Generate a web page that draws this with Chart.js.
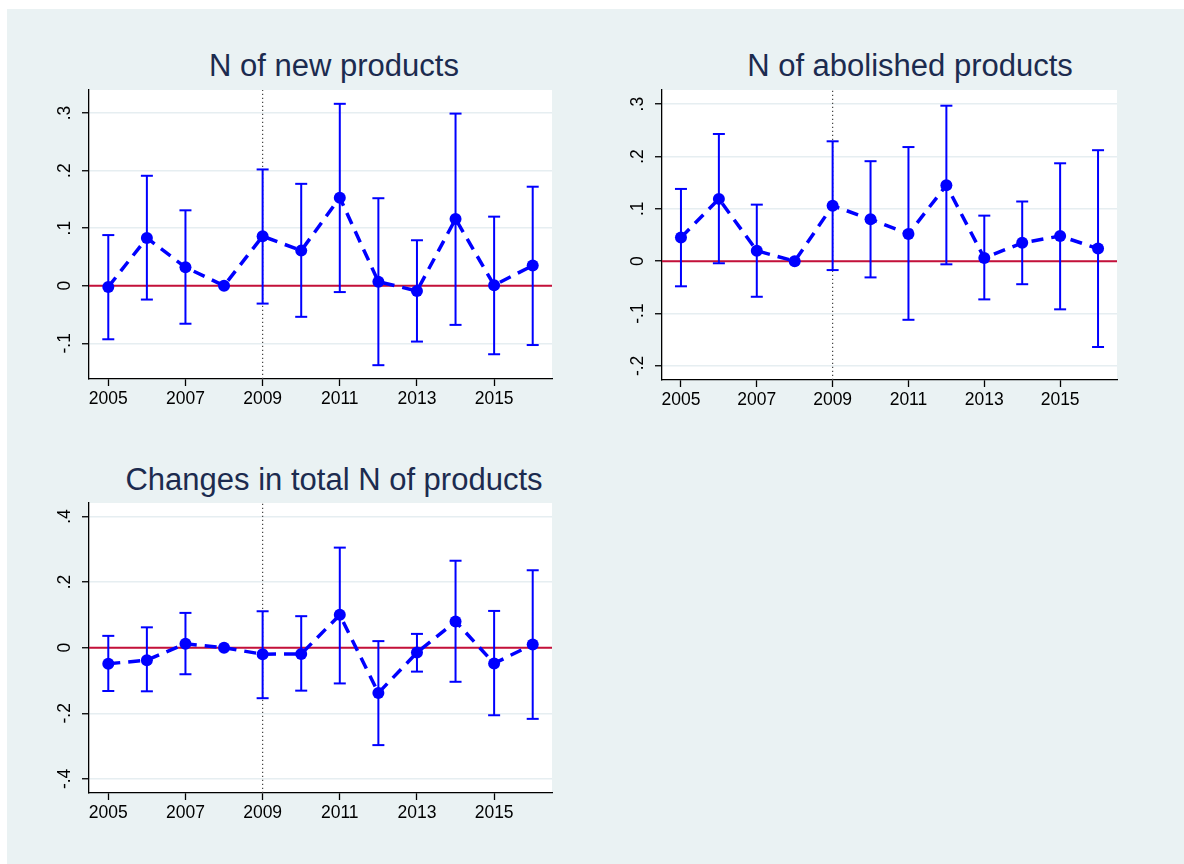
<!DOCTYPE html>
<html>
<head>
<meta charset="utf-8">
<script src="https://cdn.jsdelivr.net/npm/chart.js@4.4.1/dist/chart.umd.min.js"></script>
<style>
  html, body { margin: 0; padding: 0; background: #fff; overflow: hidden; }
  #graph { position: absolute; left: 7px; top: 9px; width: 1177px; height: 855px; background: #eaf2f3; }
  canvas { position: absolute; }
  #panelNew { left: 20px; top: 60px; }
  #panelAbol { left: 600px; top: 60px; }
  #panelTotal { left: 20px; top: 473px; }
  .ptitle {
    position: absolute; width: 500px; text-align: center;
    font-family: 'Liberation Sans', Arial, sans-serif; font-size: 31px; line-height: 31px;
    color: #1c2b4f; white-space: nowrap;
  }
</style>
</head>
<body>
<div id="graph"></div>
<div class="ptitle" style="left: 84px; top: 50px;">N of new products</div>
<div class="ptitle" style="left: 660px; top: 50px;">N of abolished products</div>
<div class="ptitle" style="left: 84px; top: 464px;">Changes in total N of products</div>
<canvas id="panelNew" width="552" height="364"></canvas>
<canvas id="panelAbol" width="537" height="365"></canvas>
<canvas id="panelTotal" width="552" height="365"></canvas>
<script>
const years = [2005, 2006, 2007, 2008, 2009, 2010, 2011, 2012, 2013, 2014, 2015, 2016];
const eventYear = 2009;

// point estimates and 95% bounds; 2008 is the base year (no interval)
const newCoef = [-0.002, 0.083, 0.032, 0, 0.086, 0.061, 0.153, 0.007, -0.009, 0.116, 0.001, 0.035];
const newLo = [-0.093, -0.024, -0.066, null, -0.031, -0.054, -0.011, -0.138, -0.097, -0.068, -0.119, -0.103];
const newHi = [0.088, 0.191, 0.131, null, 0.202, 0.177, 0.316, 0.152, 0.079, 0.299, 0.120, 0.172];

const abolCoef = [0.045, 0.119, 0.020, 0, 0.106, 0.080, 0.052, 0.145, 0.006, 0.035, 0.048, 0.024];
const abolLo = [-0.048, -0.004, -0.068, null, -0.017, -0.031, -0.112, -0.006, -0.073, -0.044, -0.092, -0.164];
const abolHi = [0.138, 0.243, 0.108, null, 0.229, 0.191, 0.218, 0.297, 0.087, 0.114, 0.187, 0.212];

const totalCoef = [-0.049, -0.038, 0.012, 0, -0.020, -0.019, 0.100, -0.138, -0.015, 0.080, -0.048, 0.010];
const totalLo = [-0.132, -0.133, -0.081, null, -0.154, -0.131, -0.109, -0.297, -0.073, -0.104, -0.206, -0.217];
const totalHi = [0.036, 0.062, 0.106, null, 0.111, 0.096, 0.305, 0.020, 0.042, 0.265, 0.112, 0.236];

// axis ticks
const xTicks = [2005, 2007, 2009, 2011, 2013, 2015];
const xTickLabels = ['2005', '2007', '2009', '2011', '2013', '2015'];
const yTicksNew = [-0.1, 0, 0.1, 0.2, 0.3];
const yLabelsNew = ['-.1', '0', '.1', '.2', '.3'];
const yTicksAbol = [-0.2, -0.1, 0, 0.1, 0.2, 0.3];
const yLabelsAbol = ['-.2', '-.1', '0', '.1', '.2', '.3'];
const yTicksTotal = [-0.4, -0.2, 0, 0.2, 0.4];
const yLabelsTotal = ['-.4', '-.2', '0', '.2', '.4'];

const X_MIN = 2004.5;
const X_MAX = 2016.5;

const FONT = "'Liberation Sans', Arial, sans-serif";
const BLUE = '#0000ff';
const RED = '#c4103a';
const GRID = '#e6eef1';

Chart.defaults.font.family = FONT;

// white plot region behind the grid
const plotBackground = {
    id: 'plotBackground',
    beforeDraw(chart) {
        const {ctx, chartArea} = chart;
        ctx.save();
        ctx.fillStyle = '#ffffff';
        ctx.fillRect(chartArea.left, chartArea.top, chartArea.width, chartArea.height);
        ctx.restore();
    }
};

function buildPanel(id, coef, lo, hi, yTicks, yLabels, yMin, yMax, axisWidth) {
    // each interval: lower point, upper point, then a gap so the whiskers don't join
    const whiskers = [];
    years.forEach((yr, i) => {
        if (lo[i] === null) return;
        whiskers.push({x: yr, y: lo[i]}, {x: yr, y: hi[i]}, {x: yr, y: null});
    });

    new Chart(document.getElementById(id), {
        type: 'line',
        plugins: [plotBackground],
        data: {
            datasets: [
                {
                    data: years.map((yr, i) => ({x: yr, y: coef[i]})),
                    borderColor: BLUE,
                    backgroundColor: BLUE,
                    borderWidth: 3.5,
                    borderDash: [12, 8],
                    pointRadius: 6,
                    pointBorderWidth: 0,
                    pointBackgroundColor: BLUE,
                    order: 0
                },
                {
                    data: whiskers,
                    borderColor: BLUE,
                    borderWidth: 2,
                    pointStyle: 'line',
                    pointRadius: 6,
                    pointBorderWidth: 2,
                    pointBorderColor: BLUE,
                    spanGaps: false,
                    order: 1
                },
                {
                    data: [{x: X_MIN, y: 0}, {x: X_MAX, y: 0}],
                    borderColor: RED,
                    borderWidth: 2,
                    pointRadius: 0,
                    order: 2
                },
                {
                    data: [{x: eventYear, y: yMin}, {x: eventYear, y: yMax}],
                    borderColor: '#444',
                    borderWidth: 1.2,
                    borderDash: [1.2, 2.8],
                    pointRadius: 0,
                    order: 3
                }
            ]
        },
        options: {
            responsive: false,
            animation: false,
            events: [],
            layout: {padding: {top: 30, right: 20, bottom: 0, left: 0}},
            plugins: {
                legend: {display: false},
                tooltip: {enabled: false}
            },
            scales: {
                x: {
                    type: 'linear',
                    min: X_MIN,
                    max: X_MAX,
                    afterBuildTicks: s => { s.ticks = xTicks.map(v => ({value: v})); },
                    afterFit: s => { s.height = 45; },
                    ticks: {
                        callback: (v, i) => xTickLabels[i],
                        color: '#000',
                        font: {size: 17.5},
                        padding: 3,
                        maxRotation: 0,
                        autoSkip: false
                    },
                    grid: {drawOnChartArea: false, tickLength: 7, tickColor: '#000', tickWidth: 1.3},
                    border: {color: '#000', width: 1.3}
                },
                y: {
                    type: 'linear',
                    min: yMin,
                    max: yMax,
                    afterBuildTicks: s => { s.ticks = yTicks.map(v => ({value: v})); },
                    afterFit: s => { s.width = axisWidth; },
                    ticks: {
                        callback: (v, i) => yLabels[i],
                        color: '#000',
                        font: {size: 17.5},
                        minRotation: 90,
                        maxRotation: 90,
                        crossAlign: 'center',
                        padding: 7
                    },
                    grid: {color: GRID, lineWidth: 1.5, tickLength: 7, tickColor: '#000', tickWidth: 1.3},
                    border: {color: '#000', width: 1.3}
                }
            }
        }
    });
}

buildPanel('panelNew', newCoef, newLo, newHi, yTicksNew, yLabelsNew, -0.162, 0.340, 69);
buildPanel('panelAbol', abolCoef, abolLo, abolHi, yTicksAbol, yLabelsAbol, -0.227, 0.327, 62);
buildPanel('panelTotal', totalCoef, totalLo, totalHi, yTicksTotal, yLabelsTotal, -0.443, 0.441, 69);
</script>
</body>
</html>
